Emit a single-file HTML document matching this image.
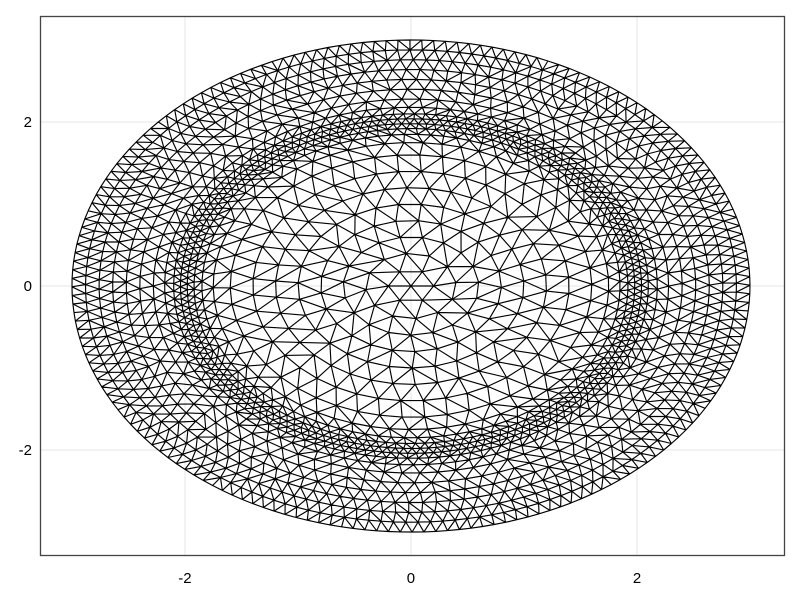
<!DOCTYPE html>
<html><head><meta charset="utf-8"><style>
html,body{margin:0;padding:0;background:#fff;}
svg text{font-family:"Liberation Sans",sans-serif;font-size:15px;fill:#000;}
</style></head><body>
<svg id="chart" width="800" height="600" viewBox="0 0 800 600" xmlns="http://www.w3.org/2000/svg">
<rect x="0" y="0" width="800" height="600" fill="#fff"/>
<g id="grid"></g>
<g id="mesh"></g>
<rect x="40.5" y="16.5" width="744" height="539" fill="none" stroke="#444" stroke-width="1.3"/>
<g id="ticks"></g>
</svg>
<script>
const xTicks = [-2, 0, 2];
const yTicks = [-2, 0, 2];
const ringRadii = [0.2,0.4,0.6,0.8,1.0,1.2,1.4,1.6,1.75,1.85,1.92,1.98,2.04,2.1,2.18,2.28,2.4,2.52,2.64,2.76,2.88,3.0];
const ringCounts = [6,12,19,25,31,38,44,50,65,100,140,170,170,140,110,90,100,120,135,150,165,180];

const X0=40, X1=784, Y0=16, Y1=555;
const xMin=-3.283, xMax=3.301, yMin=-3.28, yMax=3.293;
function sx(v){return X0+(v-xMin)/(xMax-xMin)*(X1-X0);}
function sy(v){return Y1-(v-yMin)/(yMax-yMin)*(Y1-Y0);}

const NS="http://www.w3.org/2000/svg";
const grid=document.getElementById('grid');
const ticks=document.getElementById('ticks');
xTicks.forEach(t=>{
  const l=document.createElementNS(NS,'line');
  l.setAttribute('x1',sx(t));l.setAttribute('x2',sx(t));l.setAttribute('y1',Y0);l.setAttribute('y2',Y1);
  l.setAttribute('stroke','#e6e6e6');
  
  
  grid.appendChild(l);
  const tx=document.createElementNS(NS,'text');
  tx.setAttribute('x',sx(t));tx.setAttribute('y',583);tx.setAttribute('text-anchor','middle');
  tx.textContent=String(t);
  
  
  ticks.appendChild(tx);
});
yTicks.forEach(t=>{
  const l=document.createElementNS(NS,'line');
  l.setAttribute('y1',sy(t));l.setAttribute('y2',sy(t));l.setAttribute('x1',X0);l.setAttribute('x2',X1);
  l.setAttribute('stroke','#e6e6e6');
  
  
  grid.appendChild(l);
  const tx=document.createElementNS(NS,'text');
  tx.setAttribute('x',32);tx.setAttribute('y',sy(t)+5);tx.setAttribute('text-anchor','end');
  tx.textContent=String(t);
  
  
  ticks.appendChild(tx);
});

const rings=[[{a:0,x:0,y:0}]];
ringRadii.forEach((r,i)=>{
  const n=ringCounts[i], off=(i%2)*0.5/n*2*Math.PI + i*0.37;
  const pts=[];
  for(let k=0;k<n;k++){
    const a=off+k/n*2*Math.PI;
    pts.push({a:a, x:r*Math.cos(a), y:r*Math.sin(a)});
  }
  rings.push(pts);
});
let d='';
function seg(p,q){d+='M'+sx(p.x).toFixed(1)+' '+sy(p.y).toFixed(1)+'L'+sx(q.x).toFixed(1)+' '+sy(q.y).toFixed(1);}
function norm(a){a=a%(2*Math.PI);return a<0?a+2*Math.PI:a;}
for(let i=1;i<rings.length;i++){
  const B=rings[i];
  for(let k=0;k<B.length;k++) seg(B[k],B[(k+1)%B.length]);
  const A=rings[i-1];
  if(A.length===1){B.forEach(p=>seg(A[0],p));continue;}
  const As=A.map(p=>({p,a:norm(p.a)})).sort((u,v)=>u.a-v.a);
  const Bs=B.map(p=>({p,a:norm(p.a)})).sort((u,v)=>u.a-v.a);
  let ia=0, ib=0;
  const na=As.length, nb=Bs.length;
  seg(As[0].p,Bs[0].p);
  while(ia<na||ib<nb){
    const nextA = ia<na ? (ia+1<na?As[ia+1].a:As[0].a+2*Math.PI) : Infinity;
    const nextB = ib<nb ? (ib+1<nb?Bs[ib+1].a:Bs[0].a+2*Math.PI) : Infinity;
    if(nextA<nextB){ia++;} else {ib++;}
    seg(As[ia%na].p,Bs[ib%nb].p);
  }
}
const path=document.createElementNS(NS,'path');
path.setAttribute('d',d);
path.setAttribute('stroke','#000');
path.setAttribute('stroke-width','1.15');
path.setAttribute('fill','none');


document.getElementById('mesh').appendChild(path);
</script>
</body></html>
